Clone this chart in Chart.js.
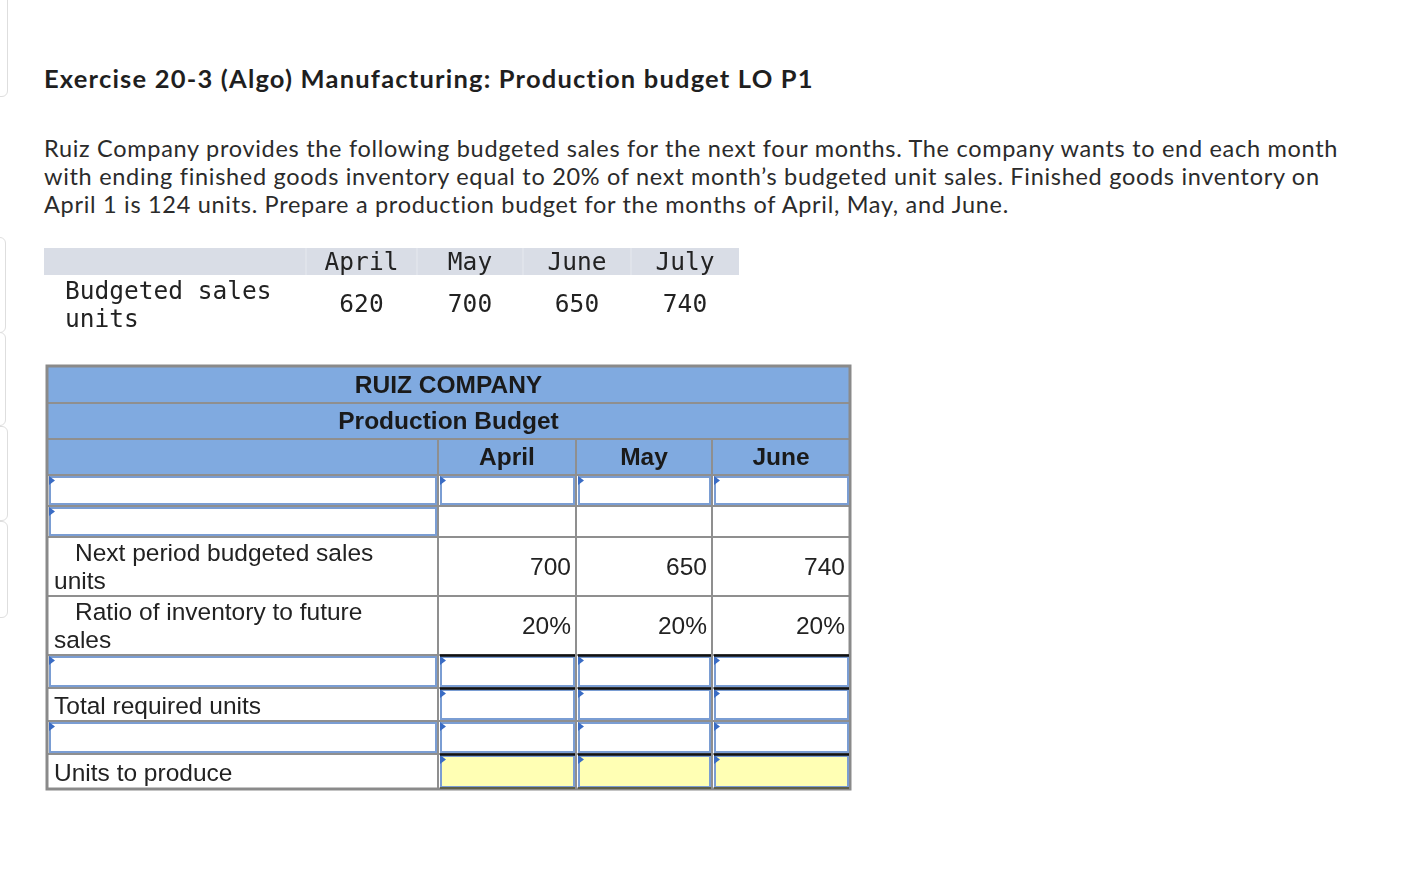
<!DOCTYPE html>
<html lang="en">
<head>
<meta charset="utf-8">
<title>Exercise 20-3 (Algo) Manufacturing: Production budget</title>
<script src="https://cdn.jsdelivr.net/npm/chart.js@4.4.1/dist/chart.umd.min.js"></script>
<style>
    html, body { margin: 0; padding: 0; background: #fff; }
    body { width: 1426px; height: 882px; position: relative; overflow: hidden; font-family: Lato, "Noto Sans", sans-serif; }
    .marco { position: absolute; left: -12px; width: 18px; border: 1px solid #dedede; border-radius: 6px; }
    h1 { position: absolute; left: 44px; top: 62px; margin: 0; font-size: 25.5px; letter-spacing: 1.2px; font-weight: 700; line-height: 32px; white-space: nowrap; color: #1f1f1f; }
    #enunciado { position: absolute; left: 44px; top: 134px; margin: 0; font-size: 23.5px; letter-spacing: 0.7px; line-height: 28px; white-space: nowrap; color: #2b2b2b; }
    #tabla { position: absolute; left: 0; top: 230px; }
</style>
</head>
<body>
<div class="marco" style="top:-10px;height:105px"></div>
<div class="marco" style="top:237px;height:94px;width:16px"></div>
<div class="marco" style="top:332px;height:92px;width:16px"></div>
<div class="marco" style="top:426px;height:93px"></div>
<div class="marco" style="top:521px;height:95px"></div>

<h1>Exercise 20-3 (Algo) Manufacturing: Production budget LO P1</h1>
<p id="enunciado">Ruiz Company provides the following budgeted sales for the next four months. The company wants to end each month<br>with ending finished goods inventory equal to 20% of next month’s budgeted unit sales. Finished goods inventory on<br>April 1 is 124 units. Prepare a production budget for the months of April, May, and June.</p>

<canvas id="tabla" width="900" height="580"></canvas>

<script>
// datos
const meses = ["April", "May", "June", "July"]
const ventasPresupuestadas = [620, 700, 650, 740]
const etiquetaVentas = ["Budgeted sales", "units"]

const tituloEmpresa = "RUIZ COMPANY"
const tituloPresupuesto = "Production Budget"
const mesesPresupuesto = ["April", "May", "June"]
const ventasSiguientes = [700, 650, 740]
const ratioInventario = [20, 20, 20]
const etiquetasFilas = [
    null, null, null, null, null,
    ["Next period budgeted sales", "units"],
    ["Ratio of inventory to future", "sales"],
    null,
    ["Total required units"],
    null,
    ["Units to produce"]
]

// layout (coordenadas de la pagina)
const colsVentas = [44, 306, 417, 523, 631, 739]
const cols = [47, 438, 576, 712, 850]
const filas = [366, 403, 439, 475, 506, 537, 596, 655, 688, 721, 754, 789]
// tipo de celda por fila: "h" cabecera, "in" input, "t" texto, "v" blanco
const tipoEtiqueta = ["h", "h", "h", "in", "in", "t", "t", "in", "t", "in", "t"]
const tipoMes = ["h", "h", "h", "in", "v", "t", "t", "in", "in", "in", "amarillo"]
const lineaNegra = [7, 8, 10]

const fuente = "'Liberation Sans', Arial, sans-serif"
const mono = "'DejaVu Sans Mono', monospace"

const pluginTabla = {
    id: "tabla",
    afterDraw(chart) {
        const ctx = chart.ctx
        const sx = chart.scales.x, sy = chart.scales.y
        const px = v => sx.getPixelForValue(v)
        const py = v => sy.getPixelForValue(v)

        function caja(x0, y0, x1, y1, color) {
            ctx.fillStyle = color
            ctx.fillRect(px(x0), py(y0), px(x1) - px(x0), py(y1) - py(y0))
        }
        function linea(x0, y0, x1, y1, color, ancho) {
            ctx.strokeStyle = color
            ctx.lineWidth = ancho
            ctx.beginPath()
            ctx.moveTo(px(x0), py(y0))
            ctx.lineTo(px(x1), py(y1))
            ctx.stroke()
        }
        function texto(t, x, yy, align, font, color) {
            ctx.font = font
            ctx.fillStyle = color || "#222"
            ctx.textAlign = align
            ctx.textBaseline = "middle"
            ctx.fillText(t, px(x), py(yy))
        }
        function input(x0, y0, x1, y1, relleno) {
            caja(x0 + 1, y0 + 1, x1 - 1, y1 - 1, relleno)
            ctx.strokeStyle = "#7a9dd3"
            ctx.lineWidth = 2
            ctx.strokeRect(px(x0 + 2), py(y0 + 2), px(x1) - px(x0) - 4, py(y1) - py(y0) - 4)
            ctx.fillStyle = "#3a6cc4"
            ctx.beginPath()
            ctx.moveTo(px(x0 + 1), py(y0 + 1))
            ctx.lineTo(px(x0 + 7), py(y0 + 5.5))
            ctx.lineTo(px(x0 + 1), py(y0 + 10))
            ctx.closePath()
            ctx.fill()
        }

        // tabla de ventas presupuestadas
        caja(colsVentas[0], 248, colsVentas[5], 275, "#d9dde6")
        for (let i = 1; i < colsVentas.length - 1; i++) {
            linea(colsVentas[i], 248, colsVentas[i], 275, "#e6e9ef", 1)
        }
        meses.forEach((m, i) => {
            const cx = (colsVentas[i + 1] + colsVentas[i + 2]) / 2
            texto(m, cx, 264, "center", "24.5px " + mono, "#222")
            texto(String(ventasPresupuestadas[i]), cx, 305.5, "center", "24.5px " + mono, "#222")
        })
        texto(etiquetaVentas[0], 65, 292.5, "left", "24.5px " + mono, "#222")
        texto(etiquetaVentas[1], 65, 320.5, "left", "24.5px " + mono, "#222")

        // presupuesto de produccion: fondos
        const x0 = cols[0], x1 = cols[cols.length - 1]
        caja(x0, filas[0], x1, filas[3], "#80aae0")
        for (let f = 3; f < filas.length - 1; f++) {
            caja(x0, filas[f], x1, filas[f + 1], "#ffffff")
        }

        // lineas de la rejilla
        for (let f = 1; f < filas.length - 1; f++) {
            linea(x0, filas[f], x1, filas[f], "#8f8f8f", 2)
        }
        for (let c = 1; c < cols.length - 1; c++) {
            linea(cols[c], filas[2], cols[c], filas[filas.length - 1], "#8f8f8f", 2)
        }
        ctx.strokeStyle = "#8a8a8a"
        ctx.lineWidth = 3
        ctx.strokeRect(px(x0), py(filas[0]), px(x1) - px(x0), py(filas[filas.length - 1]) - py(filas[0]))

        // celdas de entrada
        for (let f = 3; f < filas.length - 1; f++) {
            const y0 = filas[f], y1 = filas[f + 1]
            if (tipoEtiqueta[f] === "in") input(cols[0] + 1, y0, cols[1], y1, "#ffffff")
            for (let c = 1; c < cols.length - 1; c++) {
                if (tipoMes[f] === "in") input(cols[c] + 1, y0, cols[c + 1], y1, "#ffffff")
                if (tipoMes[f] === "amarillo") input(cols[c] + 1, y0, cols[c + 1], y1, "#ffffb4")
            }
        }
        lineaNegra.forEach(f => {
            for (let c = 1; c < cols.length - 1; c++) {
                linea(cols[c] + 2, filas[f] + 0.5, cols[c + 1] - 1, filas[f] + 0.5, "#111", 2.5)
            }
        })
        for (let c = 1; c < cols.length - 1; c++) {
            linea(cols[c] + 2, filas[11] - 1, cols[c + 1] - 1, filas[11] - 1, "#5f6048", 2)
        }

        // textos de cabecera
        const cx = (x0 + x1) / 2
        texto(tituloEmpresa, cx, (filas[0] + filas[1]) / 2 + 1.5, "center", "bold 24.5px " + fuente, "#1a1a1a")
        texto(tituloPresupuesto, cx, (filas[1] + filas[2]) / 2 + 1.5, "center", "bold 24.5px " + fuente, "#1a1a1a")
        mesesPresupuesto.forEach((m, i) => {
            texto(m, (cols[i + 1] + cols[i + 2]) / 2, (filas[2] + filas[3]) / 2 + 1.5, "center", "bold 24.5px " + fuente, "#1a1a1a")
        })

        // etiquetas de filas
        etiquetasFilas.forEach((lineas, f) => {
            if (!lineas) return
            const y0 = filas[f], y1 = filas[f + 1]
            if (lineas.length === 2) {
                texto(lineas[0], 75, y0 + 17, "left", "24.5px " + fuente, "#222")
                texto(lineas[1], 54, y0 + 45, "left", "24.5px " + fuente, "#222")
            } else {
                texto(lineas[0], 54, (y0 + y1) / 2 + 2.5, "left", "24.5px " + fuente, "#222")
            }
        })

        // valores
        ventasSiguientes.forEach((v, i) => {
            texto(String(v), cols[i + 2] - 5, (filas[5] + filas[6]) / 2 + 1.5, "right", "24.5px " + fuente, "#222")
        })
        ratioInventario.forEach((v, i) => {
            texto(v + "%", cols[i + 2] - 5, (filas[6] + filas[7]) / 2 + 1.5, "right", "24.5px " + fuente, "#222")
        })
    }
}

const grafica = new Chart(document.querySelector("#tabla"), {
    type: "scatter",
    data: { datasets: [] },
    options: {
        responsive: false,
        animation: false,
        events: [],
        layout: { padding: 0 },
        scales: {
            x: { type: "linear", min: 0, max: 900, display: false },
            y: { type: "linear", min: 230, max: 810, reverse: true, display: false }
        },
        plugins: { legend: { display: false }, tooltip: { enabled: false } }
    },
    plugins: [pluginTabla]
})
</script>
</body>
</html>
